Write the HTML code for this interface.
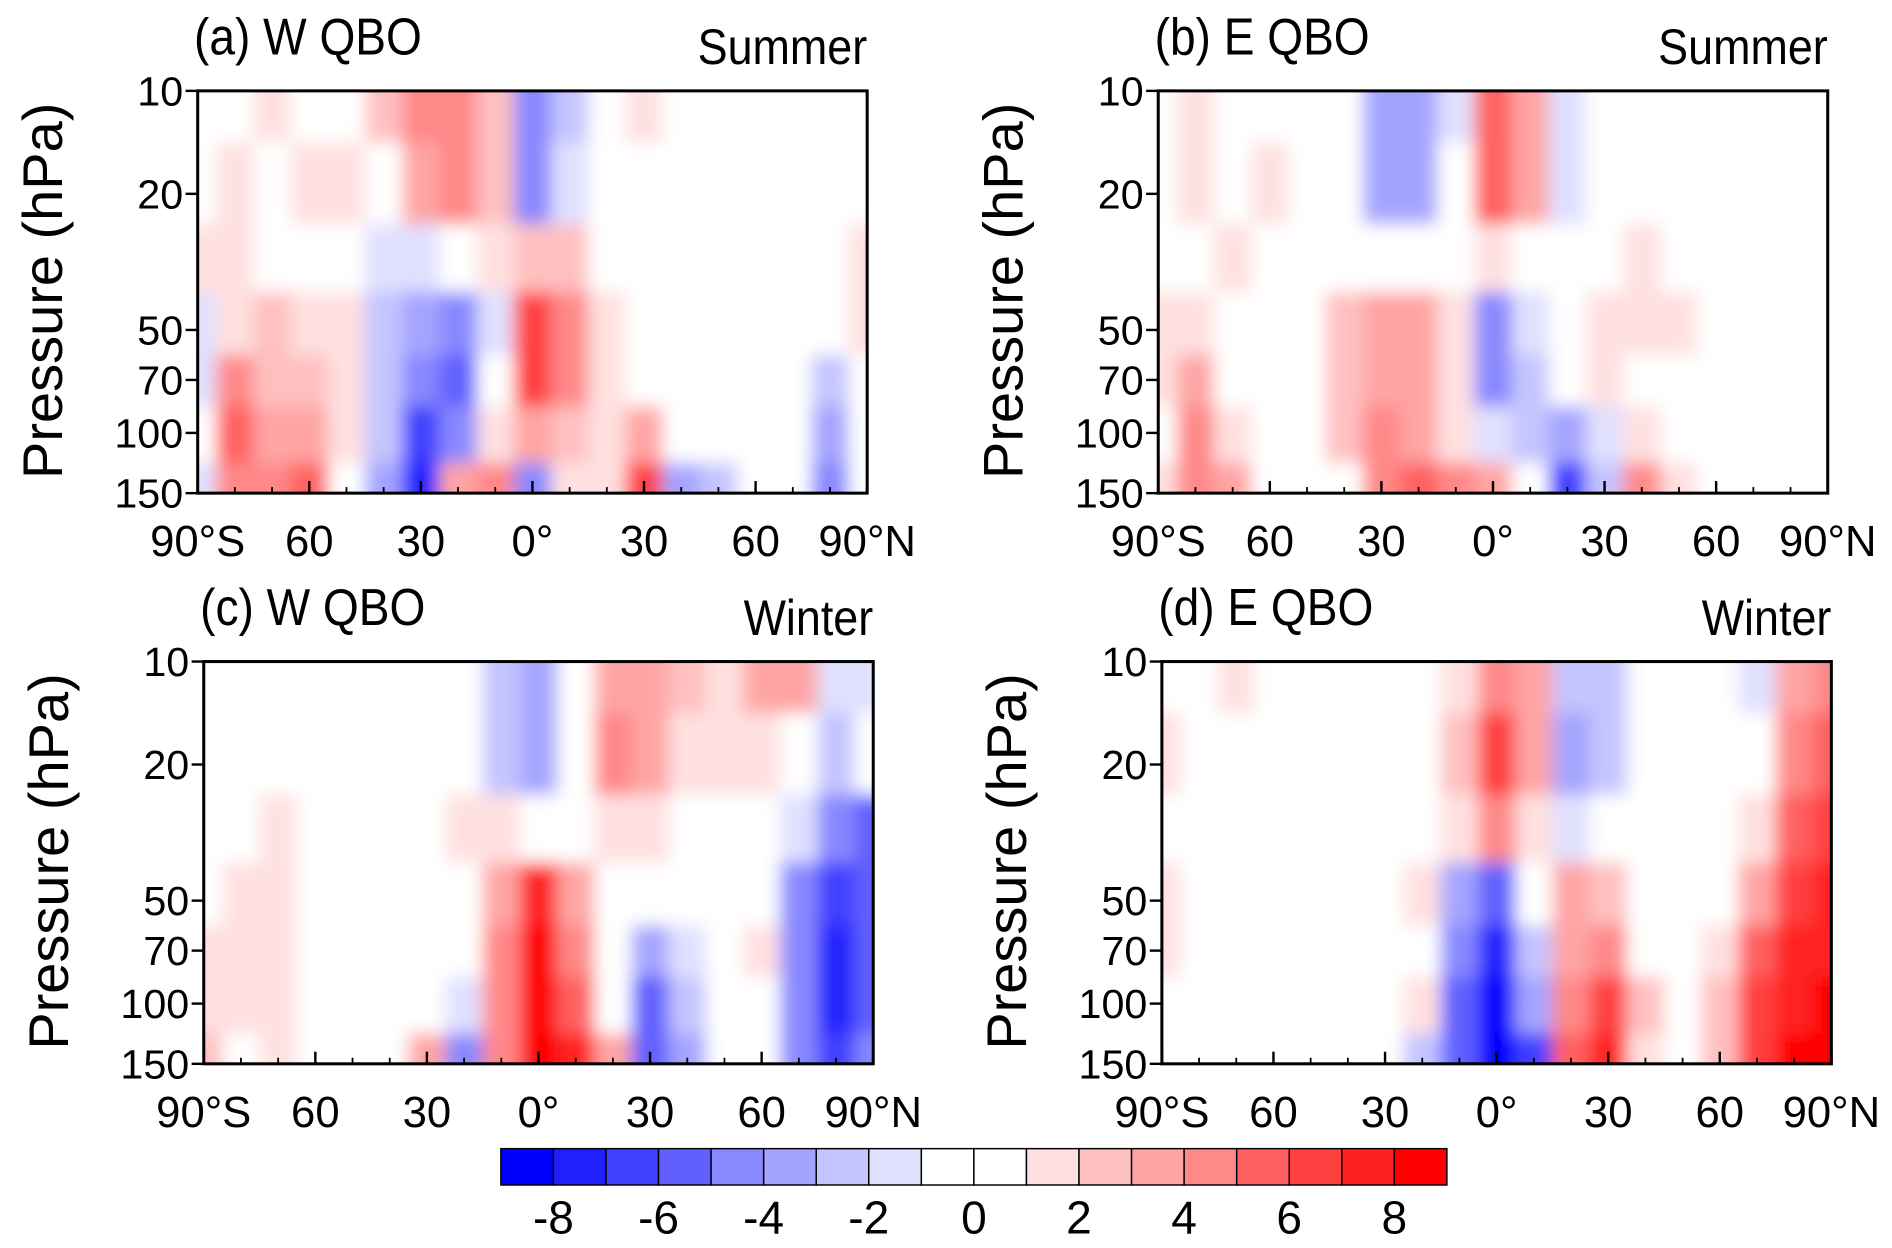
<!DOCTYPE html>
<html><head><meta charset="utf-8"><style>
html,body{margin:0;padding:0;background:#fff}
svg{display:block}
text{font-family:"Liberation Sans",sans-serif;fill:#000}
</style></head><body>
<svg id="fig" width="1892" height="1248" viewBox="0 0 1560 1030" preserveAspectRatio="none" xmlns="http://www.w3.org/2000/svg">
<defs><filter id="bl" x="-5%" y="-5%" width="110%" height="110%"><feGaussianBlur stdDeviation="7"/></filter></defs>
</svg>
<script>
const levels=[10,20,30,50,70,100,150];
const lats=[-90,-80,-70,-60,-50,-40,-30,-20,-10,0,10,20,30,40,50,60,70,80,90];
const xTicks=["90°S","60","30","0°","30","60","90°N"];
const yTicks=[10,20,50,70,100,150];
const cbLabels=["-8","-6","-4","-2","0","2","4","6","8"];
const cbColors=["#0000ff","#2020ff","#4040ff","#6060ff","#8888ff","#a4a4ff","#c4c4ff","#e0e0ff","#ffffff","#ffffff","#ffe0e0","#ffc0c0","#ffa4a4","#ff8888","#ff6060","#ff4040","#ff2020","#ff0000"];
const dataA=[
[0,0,1,0,0,2,4,4,2,-5,-3,0,1,0,0,0,0,0,0],
[0,1,0,1,1,-1,3,4,2,-5,-2,0,0,0,0,-1,0,0,0],
[1,1,0,0,0,-2,-2,-1,1,2,2,0,0,-1,0,0,0,0,1],
[-2,1,2,1,1,-3,-4,-5,-2,6,4,1,0,0,0,0,-1,-1,1],
[-2,4,2,2,1,-3,-5,-6,-1,6,4,1,0,0,0,-1,0,-3,0],
[-1,5,3,3,1,-3,-7,-5,1,3,2,1,3,0,-1,0,-1,-4,0],
[-2,4,4,5,0,-4,-8,3,4,-5,1,1,6,-4,-3,0,0,-5,0]];
const dataB=[
[0,1,0,0,0,-1,-4,-4,-2,5,3,-2,-1,0,0,0,0,0,0],
[0,1,0,1,0,-1,-4,-4,-1,5,3,-2,-1,0,0,-1,0,0,0],
[0,0,1,0,0,0,-1,-1,0,1,0,0,0,1,0,0,0,0,0],
[1,1,0,-1,0,2,3,3,1,-5,-2,0,1,1,1,0,0,0,0],
[1,3,0,-1,0,2,3,3,1,-5,-3,0,1,0,0,0,0,0,0],
[0,4,1,0,0,2,4,3,1,-2,-3,-4,-2,1,0,0,0,-1,0],
[1,4,3,0,0,0,4,5,4,3,-1,-7,-3,4,1,0,0,0,0]];
const dataC=[
[0,-1,0,0,0,0,0,0,-3,-4,-1,3,3,2,1,3,3,-2,-2],
[0,0,0,0,0,0,0,0,-3,-4,-1,4,3,1,1,1,-1,-3,-1],
[0,0,1,0,0,0,0,1,1,0,0,1,1,0,0,0,-2,-5,-6],
[0,1,1,0,0,0,-1,-1,3,7,3,0,-1,0,0,0,-5,-7,-6],
[1,1,1,0,0,0,-1,-1,4,8,4,0,-4,-2,0,1,-5,-8,-6],
[1,1,1,0,0,0,-1,-2,4,8,5,-1,-6,-3,0,0,-5,-8,-6],
[2,0,1,0,0,0,3,-5,4,8,7,3,-6,-4,0,0,-5,-7,-5]];
const dataD=[
[0,0,1,-1,0,0,0,0,1,4,3,-3,-3,-1,-1,-1,-2,3,4],
[1,0,0,-1,0,0,0,0,2,6,3,-4,-3,-1,-1,0,0,4,5],
[0,0,0,-1,-1,0,0,0,1,4,1,-2,-1,0,0,0,1,5,6],
[1,0,0,-1,-1,0,0,1,-4,-6,-1,3,2,0,0,0,3,6,7],
[1,0,0,-1,-1,0,0,0,-5,-8,-3,3,4,0,0,1,5,7,7],
[0,0,0,-1,-1,0,0,1,-6,-9,-4,4,6,2,0,2,6,7,8],
[0,0,0,-1,0,0,0,-3,-6,-9,-7,5,7,1,0,2,6,8,8]];
const panels=[
{id:"a",title:"(a) W QBO",season:"Summer",x0:163,y0:75,data:dataA},
{id:"b",title:"(b) E QBO",season:"Summer",x0:955,y0:75,data:dataB},
{id:"c",title:"(c) W QBO",season:"Winter",x0:168,y0:546,data:dataC},
{id:"d",title:"(d) E QBO",season:"Winter",x0:958,y0:546,data:dataD}];
const W=552,H=332,NS="http://www.w3.org/2000/svg";
const svg=document.getElementById("fig");
function mk(tag,attrs,parent){const e=document.createElementNS(NS,tag);for(const k in attrs)e.setAttribute(k,attrs[k]);(parent||svg).appendChild(e);return e;}
function colorOf(v){let i=Math.floor(v+9);if(i<0)i=0;if(i>17)i=17;return cbColors[i];}
panels.forEach(p=>{
  const xs=lat=>p.x0+(lat+90)/180*W;
  const ys=pr=>p.y0+(Math.log10(pr)-1)/(Math.log10(150)-1)*H;
  const g=mk("g",{});
  
  
  const cp=mk("clipPath",{id:"cp"+p.id},g);
  mk("rect",{x:p.x0,y:p.y0,width:W,height:H},cp);
  const outer=mk("g",{"clip-path":"url(#cp"+p.id+")"},g);
  const fg=mk("g",{filter:"url(#bl)"},outer);
  mk("rect",{x:p.x0-20,y:p.y0-20,width:W+40,height:H+40,fill:"#fff"},fg);
  p.data.forEach((row,r)=>{
    const top=r===0?levels[0]*0.6:Math.sqrt(levels[r-1]*levels[r]);
    const bot=r===levels.length-1?levels[r]*1.6:Math.sqrt(levels[r]*levels[r+1]);
    row.forEach((v,c)=>{
      const x1=xs(lats[c]-5),x2=xs(lats[c]+5);
      const cell=mk("rect",{x:x1,y:ys(top),width:x2-x1+0.5,height:ys(bot)-ys(top)+0.5,fill:colorOf(v)},fg);
      
      
    });
  });
  mk("rect",{x:p.x0,y:p.y0,width:W,height:H,fill:"none",stroke:"#000","stroke-width":2.5},g);
  const t=mk("text",{x:p.x0-3,y:p.y0-30,"font-size":38,transform:`translate(0,${-(p.y0-30)*0.12}) scale(1,1.12)`},g);t.textContent=p.title;
  
  const s=mk("text",{x:p.x0+W,y:p.y0-22,"font-size":37,"text-anchor":"end",transform:`translate(0,${-(p.y0-22)*0.12}) scale(1,1.12)`},g);s.textContent=p.season;
  
  const yl=mk("text",{x:0,y:0,"font-size":44,"text-anchor":"middle",transform:`translate(${p.x0-112},${p.y0+H/2-1}) rotate(-90) scale(1.05,1.05)`},g);
  yl.textContent="Pressure (hPa)";
  
  yTicks.forEach(v=>{
    const y=ys(v);
    mk("line",{x1:p.x0-10,x2:p.x0,y1:y,y2:y,stroke:"#000","stroke-width":2},g);
    const tt=mk("text",{x:p.x0-12,y:y+12,"font-size":34,"text-anchor":"end"},g);tt.textContent=v;
    
  });
  xTicks.forEach((lab,i)=>{
    const x=xs(-90+30*i);
    mk("line",{x1:x,x2:x,y1:p.y0+H,y2:p.y0+H-10,stroke:"#000","stroke-width":2},g);
    const tt=mk("text",{x:x,y:p.y0+H+52,"font-size":36,"text-anchor":"middle"},g);tt.textContent=lab;
    
  });
  for(let l=-80;l<=80;l+=10){if(l%30===0)continue;const x=xs(l);mk("line",{x1:x,x2:x,y1:p.y0+H,y2:p.y0+H-5,stroke:"#000","stroke-width":1.5},g);}
});
const cb=mk("g",{});


const bw=780/18;
cbColors.forEach((c,i)=>{const r=mk("rect",{x:413+i*bw,y:948,width:bw,height:30,fill:c,stroke:"#000","stroke-width":1.2},cb);
  });
cbLabels.forEach((l,i)=>{const t=mk("text",{x:413+bw*(1+2*i),y:1018,"font-size":38,"text-anchor":"middle"},cb);t.textContent=l;
  });
</script>
</body></html>
